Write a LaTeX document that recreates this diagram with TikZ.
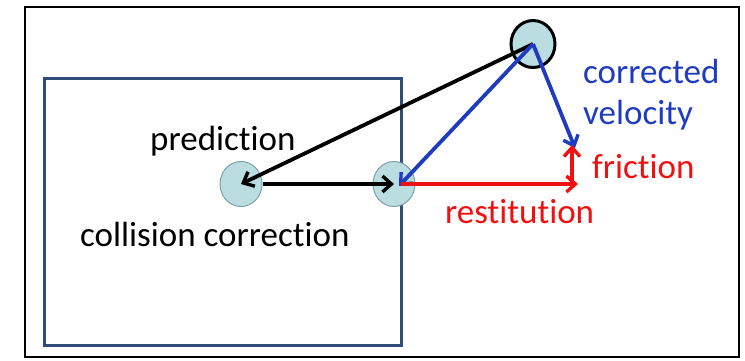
\documentclass[tikz,border=0pt]{standalone}
\usepackage{fontspec}
\setmainfont{Carlito}[Ligatures={NoCommon}]
\usetikzlibrary{arrows.meta,shapes.geometric}
\definecolor{ballfill}{HTML}{B9DDE0}
\definecolor{ballline}{HTML}{7F9FA3}
\definecolor{boxblue}{HTML}{2F4D78}
\definecolor{vblue}{HTML}{1F3CC0}
\definecolor{vred}{HTML}{F01010}
\tikzset{
  ball/.style={ellipse, fill=ballfill, draw=ballline, line width=1pt, minimum width=42pt, minimum height=45pt, inner sep=0pt},
  vec/.style={line width=3.8pt, -{Straight Barb[length=9pt,width=16pt,line width=3.4pt]}},
  lbl/.style={font=\fontsize{35}{40}\selectfont, inner sep=0pt, anchor=base west},
}
\begin{document}
\begin{tikzpicture}[x=1pt,y=-1pt]
\useasboundingbox (0,0) rectangle (745,360);
\draw[line width=1.8pt] (25,7) rectangle (739,357);
\node[draw=boxblue, line width=3pt, minimum width=357pt, minimum height=267pt, inner sep=0pt] (box) at (222.5,211.5) {};
\node[ball] (pred) at (241,184) {};
\node[ball] (corr) at (394,184) {};
\node[ball, draw=black, line width=3pt, minimum width=44pt, minimum height=47pt] (top) at (533,44) {};
\coordinate (cv) at (575,148);
\coordinate (rs) at (578,184);
\coordinate (fr) at (572,145);
\coordinate (rsb) at (572,185);
\draw[vec] (top.center) -- (pred.center);
\draw[vec] (pred.east) -- (corr.center);
\draw[vec, vblue] (top.center) -- ([xshift=5pt,yshift=-2pt]corr.center);
\draw[vec, vblue] (top.center) -- (cv);
\draw[vec, vred] ([xshift=7pt]corr.center) -- (rs);
\draw[vec, vred] (rsb) -- (fr);
\node[lbl] (tpred) at (150,150) {prediction};
\node[lbl] (tcoll) at (80,246) {collision correction};
\node[lbl, vblue] (tcorr) at (583,83) {corrected};
\node[lbl, vblue] (tvel) at (583,124) {velocity};
\node[lbl, vred] (tfric) at (592,178) {friction};
\node[lbl, vred] (trest) at (445,223) {restitution};
\end{tikzpicture}
\end{document}
